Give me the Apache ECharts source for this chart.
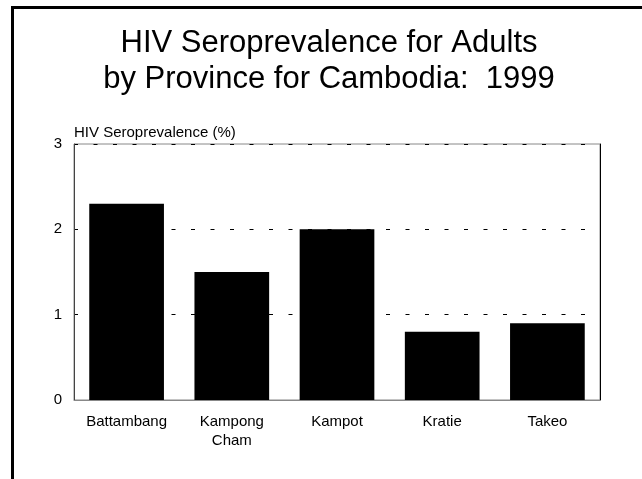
<!DOCTYPE html>
<html>
<head>
<meta charset="utf-8">
<script src="https://cdn.jsdelivr.net/npm/echarts@6/dist/echarts.min.js"></script>
<style>
html,body{margin:0;padding:0;background:#fff;}
#chart{position:absolute;left:0;top:0;width:642px;height:479px;}
#frame{position:absolute;left:11px;top:6px;right:0;bottom:0;border-left:3px solid #000;border-top:3px solid #000;pointer-events:none;}
</style>
</head>
<body>
<div id="chart"></div>
<div id="frame"></div>
<script>
var titleLines = ['HIV Seroprevalence for Adults', 'by Province for Cambodia:  1999'];
var yAxisName = 'HIV Seroprevalence (%)';
var categories = ['Battambang', 'Kampong\nCham', 'Kampot', 'Kratie', 'Takeo'];
var values = [2.3, 1.5, 2.0, 0.8, 0.9];
var yMin = 0, yMax = 3, yInterval = 1;

var FONT = 'Liberation Sans, Arial, Helvetica, sans-serif';
var chart = echarts.init(document.getElementById('chart'), null, {renderer: 'canvas'});
chart.setOption({
  animation: false,
  backgroundColor: '#fff',
  title: {
    text: titleLines.join('\n'),
    left: 329,
    textAlign: 'center',
    top: 25,
    padding: 0,
    textStyle: {fontFamily: FONT, fontSize: 31, fontWeight: 'normal', color: '#000', lineHeight: 36}
  },
  grid: {left: 74, right: 42, top: 144, bottom: 79, show: true, borderColor: '#888', borderWidth: 1, backgroundColor: 'transparent'},
  xAxis: {
    type: 'category',
    data: categories,
    axisLine: {show: true, lineStyle: {color: '#888', width: 1}},
    axisTick: {show: false},
    axisLabel: {color: '#000', fontFamily: FONT, fontSize: 15, lineHeight: 19, margin: 12, interval: 0},
    splitLine: {show: false}
  },
  yAxis: [{
    type: 'value',
    min: yMin, max: yMax, interval: yInterval,
    name: yAxisName,
    nameLocation: 'end',
    nameGap: 11,
    nameTextStyle: {color: '#000', fontFamily: FONT, fontSize: 15, align: 'left', verticalAlign: 'middle'},
    axisLine: {show: true, lineStyle: {color: '#444', width: 1}},
    axisTick: {show: false},
    axisLabel: {color: '#000', fontFamily: FONT, fontSize: 15, margin: 12},
    splitLine: {show: true, showMinLine: true, showMaxLine: true, lineStyle: {color: '#000', width: 1, type: [4, 15.5]}}
  }, {
    type: 'value',
    position: 'right',
    min: yMin, max: yMax, interval: yInterval,
    axisLine: {show: true, lineStyle: {color: '#000', width: 1}},
    axisTick: {show: false},
    axisLabel: {show: false},
    splitLine: {show: false}
  }],
  series: [{
    type: 'bar',
    data: values,
    yAxisIndex: 0,
    barCategoryGap: '29%',
    itemStyle: {color: '#000'}
  }]
});
</script>
</body>
</html>
